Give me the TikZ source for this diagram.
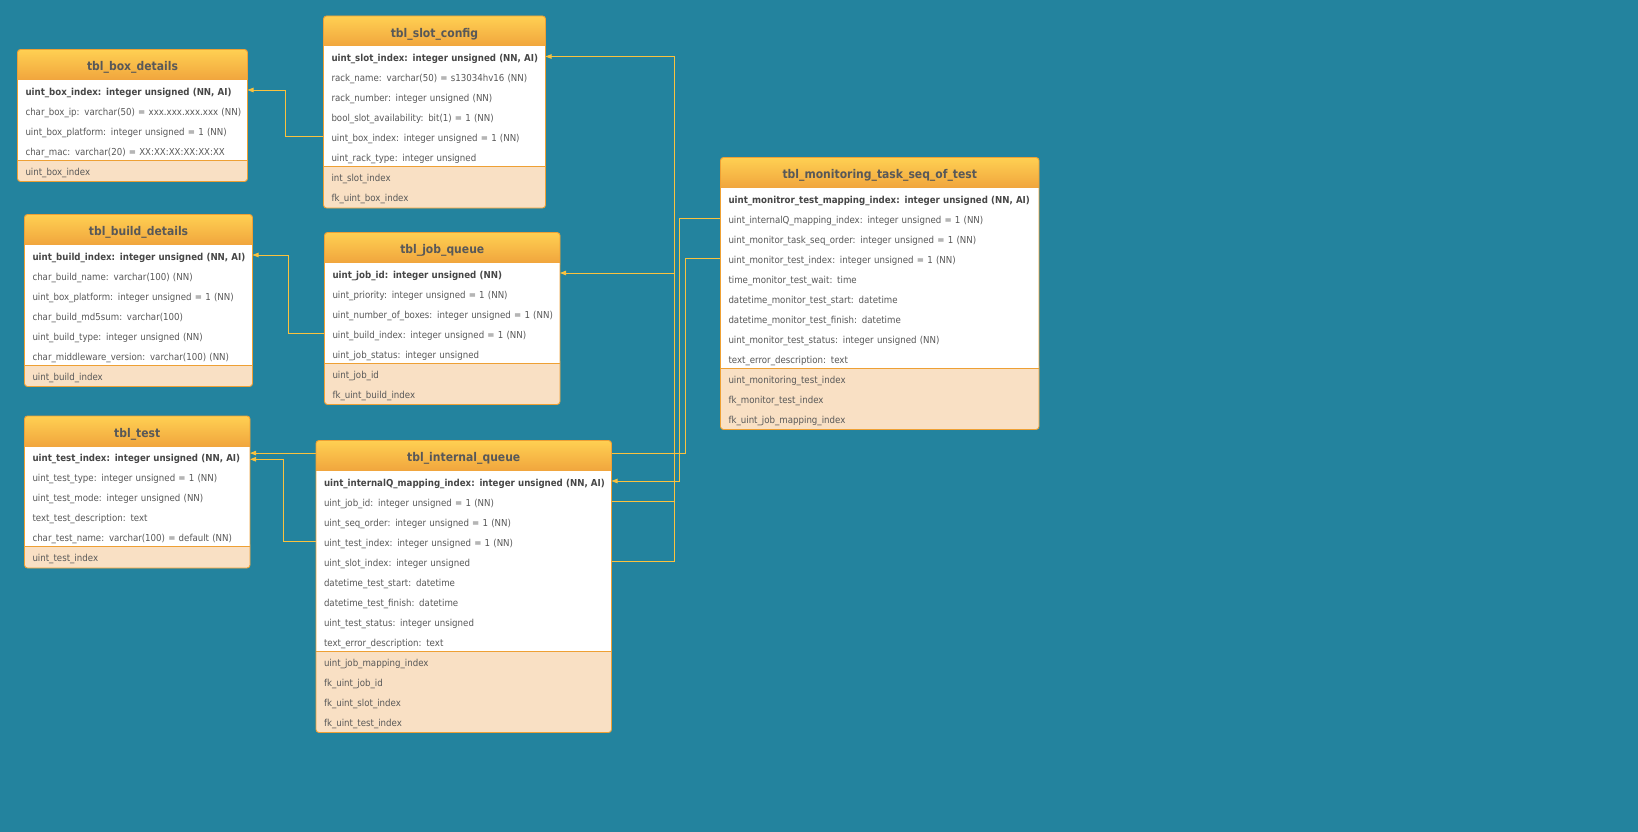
\documentclass[tikz,border=0pt]{standalone}
\usepackage{fontspec}
\newfontfamily\erfont[FakeStretch=0.9, WordSpace=0.8]{DejaVu Sans}
\usetikzlibrary{arrows.meta}

\definecolor{canvas}{RGB}{35,131,158}
\definecolor{hdtop}{RGB}{255,208,82}
\definecolor{hdbot}{RGB}{238,158,58}
\definecolor{edge}{RGB}{238,160,52}
\definecolor{keyfill}{RGB}{249,224,196}
\definecolor{wire}{RGB}{250,194,62}
\definecolor{rowtext}{RGB}{88,88,88}
\definecolor{pktext}{RGB}{70,70,70}
\definecolor{titletext}{RGB}{88,88,88}

\pgfdeclarelayer{canvaslayer}
\pgfdeclarelayer{wirelayer}
\pgfsetlayers{canvaslayer,wirelayer,main}

\tikzset{
  rowcell/.style={anchor=north west, minimum height=20pt, text height=11.6pt,
    text depth=1pt, inner ysep=0pt, inner xsep=8pt, outer sep=0pt, align=left,
    font=\erfont\fontsize{9.6}{11}\selectfont, text=rowtext},
  pkcell/.style={rowcell, font=\erfont\bfseries\fontsize{9.6}{11}\selectfont, text=pktext},
  keycell/.style={rowcell},
  titlecell/.style={anchor=base, inner sep=0pt,
    font=\erfont\bfseries\fontsize{12}{14}\selectfont, text=titletext},
  border/.style={draw=edge, line width=0.9pt},
  fk/.style={draw=wire, line width=0.9pt, -{Triangle[length=6pt,width=4.5pt]}},
}

% #1 id, #2 left, #3 top, #4 width, #5 field rows, #6 key rows, #7 title
\newcommand\ertable[7]{%
  \pgfmathsetmacro\tL{#2}\pgfmathsetmacro\tT{#3}\pgfmathsetmacro\tR{#2+#4}%
  \pgfmathsetmacro\tH{#3+30.5}\pgfmathsetmacro\tS{\tH+20*#5}%
  \pgfmathsetmacro\tB{\tS+20*#6+1.5}\pgfmathsetmacro\tTW{#4-16}%
  \fill[keyfill, rounded corners=3pt] (\tL,\tS-5) rectangle (\tR,\tB);
  \shade[top color=hdtop, bottom color=hdbot, rounded corners=3pt]
    (\tL,\tT) rectangle (\tR,\tH+5);
  \fill[white] (\tL,\tH) rectangle (\tR,\tS);
  \draw[border] (\tL,\tS) -- (\tR,\tS);
  \draw[border, rounded corners=3pt] (\tL,\tT) rectangle (\tR,\tB);
  \node[titlecell] (#1-title) at ({(\tL+\tR)/2},\tT+21.3) {#7};
}
% #1 id, #2 row number, #3 style, #4 text
\newcommand\erfield[4]{%
  \node[#3, text width=\tTW pt] (#1-#2) at (\tL,{\tH+20*(#2-1)}) {\mbox{#4}};
}
% #1 id, #2 key row number, #3 text
\newcommand\erkey[3]{%
  \node[keycell, text width=\tTW pt] (#1-k#2) at (\tL,{\tS+20*(#2-1)}) {\mbox{#3}};
}

\begin{document}
\begin{tikzpicture}[x=1pt, y=-1pt]
\begin{pgfonlayer}{canvaslayer}
  \fill[canvas] (0,0) rectangle (1638,832);
\end{pgfonlayer}
\useasboundingbox (0,0) rectangle (1638,832);

% tbl_box_details
\ertable{bd}{17.5}{49.5}{230}{4}{1}{tbl\_box\_details}
\erfield{bd}{1}{pkcell}{uint\_box\_index: integer unsigned (NN, AI)}
\erfield{bd}{2}{rowcell}{char\_box\_ip: varchar(50) = xxx.xxx.xxx.xxx (NN)}
\erfield{bd}{3}{rowcell}{uint\_box\_platform: integer unsigned = 1 (NN)}
\erfield{bd}{4}{rowcell}{char\_mac: varchar(20) = XX:XX:XX:XX:XX:XX}
\erkey{bd}{1}{uint\_box\_index}

% tbl_slot_config
\ertable{sc}{323.5}{16}{222}{6}{2}{tbl\_slot\_config}
\erfield{sc}{1}{pkcell}{uint\_slot\_index: integer unsigned (NN, AI)}
\erfield{sc}{2}{rowcell}{rack\_name: varchar(50) = s13034hv16 (NN)}
\erfield{sc}{3}{rowcell}{rack\_number: integer unsigned (NN)}
\erfield{sc}{4}{rowcell}{bool\_slot\_availability: bit(1) = 1 (NN)}
\erfield{sc}{5}{rowcell}{uint\_box\_index: integer unsigned = 1 (NN)}
\erfield{sc}{6}{rowcell}{uint\_rack\_type: integer unsigned}
\erkey{sc}{1}{int\_slot\_index}
\erkey{sc}{2}{fk\_uint\_box\_index}

% tbl_build_details
\ertable{bld}{24.5}{214.5}{228}{6}{1}{tbl\_build\_details}
\erfield{bld}{1}{pkcell}{uint\_build\_index: integer unsigned (NN, AI)}
\erfield{bld}{2}{rowcell}{char\_build\_name: varchar(100) (NN)}
\erfield{bld}{3}{rowcell}{uint\_box\_platform: integer unsigned = 1 (NN)}
\erfield{bld}{4}{rowcell}{char\_build\_md5sum: varchar(100)}
\erfield{bld}{5}{rowcell}{uint\_build\_type: integer unsigned (NN)}
\erfield{bld}{6}{rowcell}{char\_middleware\_version: varchar(100) (NN)}
\erkey{bld}{1}{uint\_build\_index}

% tbl_job_queue
\ertable{jq}{324.5}{232.5}{235.5}{5}{2}{tbl\_job\_queue}
\erfield{jq}{1}{pkcell}{uint\_job\_id: integer unsigned (NN)}
\erfield{jq}{2}{rowcell}{uint\_priority: integer unsigned = 1 (NN)}
\erfield{jq}{3}{rowcell}{uint\_number\_of\_boxes: integer unsigned = 1 (NN)}
\erfield{jq}{4}{rowcell}{uint\_build\_index: integer unsigned = 1 (NN)}
\erfield{jq}{5}{rowcell}{uint\_job\_status: integer unsigned}
\erkey{jq}{1}{uint\_job\_id}
\erkey{jq}{2}{fk\_uint\_build\_index}

% tbl_test
\ertable{te}{24.5}{416}{225.5}{5}{1}{tbl\_test}
\erfield{te}{1}{pkcell}{uint\_test\_index: integer unsigned (NN, AI)}
\erfield{te}{2}{rowcell}{uint\_test\_type: integer unsigned = 1 (NN)}
\erfield{te}{3}{rowcell}{uint\_test\_mode: integer unsigned (NN)}
\erfield{te}{4}{rowcell}{text\_test\_description: text}
\erfield{te}{5}{rowcell}{char\_test\_name: varchar(100) = default (NN)}
\erkey{te}{1}{uint\_test\_index}

% tbl_internal_queue
\ertable{iq}{316}{440.5}{295.5}{9}{4}{tbl\_internal\_queue}
\erfield{iq}{1}{pkcell}{uint\_internalQ\_mapping\_index: integer unsigned (NN, AI)}
\erfield{iq}{2}{rowcell}{uint\_job\_id: integer unsigned = 1 (NN)}
\erfield{iq}{3}{rowcell}{uint\_seq\_order: integer unsigned = 1 (NN)}
\erfield{iq}{4}{rowcell}{uint\_test\_index: integer unsigned = 1 (NN)}
\erfield{iq}{5}{rowcell}{uint\_slot\_index: integer unsigned}
\erfield{iq}{6}{rowcell}{datetime\_test\_start: datetime}
\erfield{iq}{7}{rowcell}{datetime\_test\_finish: datetime}
\erfield{iq}{8}{rowcell}{uint\_test\_status: integer unsigned}
\erfield{iq}{9}{rowcell}{text\_error\_description: text}
\erkey{iq}{1}{uint\_job\_mapping\_index}
\erkey{iq}{2}{fk\_uint\_job\_id}
\erkey{iq}{3}{fk\_uint\_slot\_index}
\erkey{iq}{4}{fk\_uint\_test\_index}

% tbl_monitoring_task_seq_of_test
\ertable{mo}{720.5}{157.5}{318.5}{9}{3}{tbl\_monitoring\_task\_seq\_of\_test}
\erfield{mo}{1}{pkcell}{uint\_monitror\_test\_mapping\_index: integer unsigned (NN, AI)}
\erfield{mo}{2}{rowcell}{uint\_internalQ\_mapping\_index: integer unsigned = 1 (NN)}
\erfield{mo}{3}{rowcell}{uint\_monitor\_task\_seq\_order: integer unsigned = 1 (NN)}
\erfield{mo}{4}{rowcell}{uint\_monitor\_test\_index: integer unsigned = 1 (NN)}
\erfield{mo}{5}{rowcell}{time\_monitor\_test\_wait: time}
\erfield{mo}{6}{rowcell}{datetime\_monitor\_test\_start: datetime}
\erfield{mo}{7}{rowcell}{datetime\_monitor\_test\_finish: datetime}
\erfield{mo}{8}{rowcell}{uint\_monitor\_test\_status: integer unsigned (NN)}
\erfield{mo}{9}{rowcell}{text\_error\_description: text}
\erkey{mo}{1}{uint\_monitoring\_test\_index}
\erkey{mo}{2}{fk\_monitor\_test\_index}
\erkey{mo}{3}{fk\_uint\_job\_mapping\_index}

% foreign-key connectors, kept beneath the tables
\begin{pgfonlayer}{wirelayer}
  \draw[fk] (sc-5.west) -- ++(-38,0) |- (bd-1.east);
  \draw[fk] (jq-4.west) -- ++(-36.2,0) |- (bld-1.east);
  \draw[fk] (iq-4.west) -- ++(-33,0) |- ([yshift=-2.8pt]te-1.east);
  \draw[fk] (mo-4.west) -- ++(-35.5,0) |- ([yshift=3.4pt]te-1.east);
  \draw[fk] (mo-2.west) -- ++(-40.6,0) |- (iq-1.east);
  \draw[fk] (iq-2.east) -- ++(63.2,0) |- (jq-1.east);
  \draw[fk] (iq-5.east) -- ++(63.2,0) |- (sc-1.east);
\end{pgfonlayer}
\end{tikzpicture}
\end{document}
